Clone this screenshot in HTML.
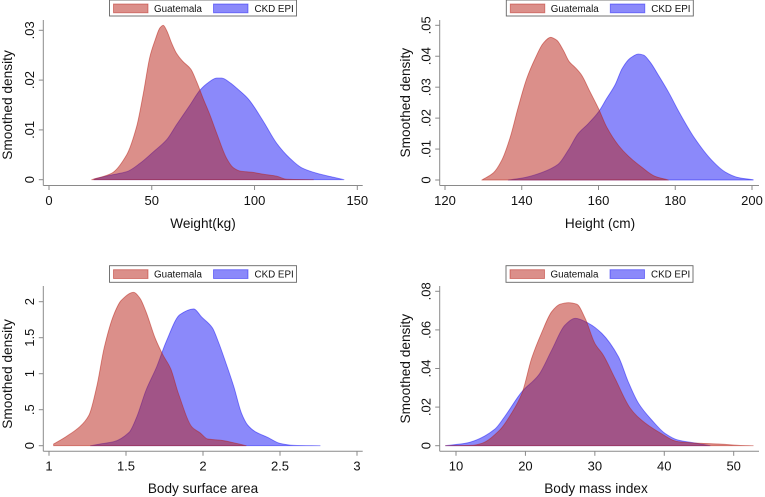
<!DOCTYPE html>
<html lang="en">
<head>
<meta charset="utf-8">
<title>Density comparison: Guatemala vs CKD EPI</title>
<style>
html,body{margin:0;padding:0;background:#fff;}
svg{display:block;font-family:"Liberation Sans",sans-serif;filter:blur(0.3px);}
text{fill:#111;}
</style>
</head>
<body>
<svg id="chart" width="765" height="497" viewBox="0 0 765 497" xmlns="http://www.w3.org/2000/svg"></svg>
<script>
// Panel 1: Weight
const weightGuatX = [20.8,30.5,37.8,42.6,45.9,49.1,51.6,54,55.6,57.2,59.7,62,65,69,71.8,75,78.3,81.6,86.4,89.7,93.2,98.6,104.3,110.8,115.6,128.6];
const weightGuatY = [0,.0013,.005,.0106,.0173,.0247,.028,.0305,.031,.030,.0274,.0254,.0238,.0222,.0197,.0163,.013,.0093,.0043,.0024,.0017,.0015,.0011,.0007,.0001,0];
const weightCkdX = [21.9,29.7,37.8,44.3,50.8,57.2,62,68.6,73.5,77.5,81.6,84,88,92.1,97,104.3,110.8,117.2,122.9,130.2,138.3,143.5];
const weightCkdY = [.0001,.0009,.0016,.0033,.0056,.008,.011,.015,.018,.0195,.0204,.0204,.0195,.0181,.0162,.0117,.0073,.0043,.0024,.0013,.0005,0];
const weightXTicks = [0,50,100,150];
const weightXLabels = ['0','50','100','150'];
const weightYTicks = [0,.01,.02,.03];
const weightYLabels = ['0','.01','.02','.03'];

// Panel 2: Height
const heightGuatX = [129.6,132.6,134.8,136.9,139.1,141.3,143.5,145.6,147.5,149.1,150.8,152.4,153.9,155.6,157.8,160,162.1,165.2,167.8,171.2,174.7,178.2];
const heightGuatY = [0,.0023,.0064,.0134,.0236,.0328,.0393,.0442,.0461,.0452,.042,.0382,.0364,.0339,.0285,.0231,.0172,.0112,.0077,.0042,.0012,0];
const heightCkdX = [136.5,140.8,145.2,149.5,152.1,154.7,157.4,160,162.1,164.3,166.2,168.2,170.4,171.7,173.4,175.6,178.2,181.2,185.1,189.5,193,196.4,200.3];
const heightCkdY = [0,.0008,.0024,.0051,.0096,.015,.0183,.022,.0263,.0307,.0361,.0393,.0407,.0404,.0382,.0339,.0285,.0215,.0134,.0064,.0026,.0008,.0001];
const heightXTicks = [120,140,160,180,200];
const heightXLabels = ['120','140','160','180','200'];
const heightYTicks = [0,.01,.02,.03,.04,.05];
const heightYLabels = ['0','.01','.02','.03','.04','.05'];

// Panel 3: Body surface area
const bsaGuatX = [1.03,1.11,1.2,1.26,1.31,1.36,1.42,1.47,1.55,1.59,1.63,1.69,1.74,1.79,1.84,1.93,1.98,2.03,2.12,2.2,2.28];
const bsaGuatY = [.023,.125,.264,.426,.82,1.375,1.815,2.02,2.13,2.05,1.86,1.49,1.26,1.07,.727,.255,.18,.093,.074,.04,0];
const bsaCkdX = [1.27,1.33,1.42,1.52,1.57,1.63,1.7,1.76,1.85,1.94,1.99,2.06,2.1,2.15,2.2,2.25,2.29,2.34,2.42,2.5,2.59,2.76];
const bsaCkdY = [0,.023,.055,.185,.4,.77,1.1,1.44,1.82,1.9,1.79,1.64,1.44,1.14,.82,.45,.287,.194,.116,.032,.005,0];
const bsaXTicks = [1,1.5,2,2.5,3];
const bsaXLabels = ['1','1.5','2','2.5','3'];
const bsaYTicks = [0,.5,1,1.5,2];
const bsaYLabels = ['0','.5','1','1.5','2'];

// Panel 4: Body mass index
const bmiGuatX = [8.5,12.3,13.7,16.3,18,19.5,20.9,22.3,23.8,25,26.2,27.4,28.6,30,31.2,32.9,35.1,36.7,39.1,42,45.4,47.8,50.7,52.8];
const bmiGuatY = [0,.0002,.0012,.0081,.0168,.0271,.0453,.0582,.0695,.0733,.0741,.0733,.066,.053,.047,.0349,.0194,.0133,.0073,.0021,.0012,.0009,.0002,0];
const bmiCkdX = [8.5,11.3,12.7,15.6,17,19.5,21.9,23.8,25.7,27.2,29.1,31,33.4,34.8,36.3,38.2,40.1,42,44.4,46.6];
const bmiCkdY = [0,.0012,.0026,.0086,.015,.028,.0366,.0496,.0625,.066,.0634,.0582,.0461,.0332,.0219,.0133,.0064,.0029,.0014,0];
const bmiXTicks = [10,20,30,40,50];
const bmiXLabels = ['10','20','30','40','50'];
const bmiYTicks = [0,.02,.04,.06,.08];
const bmiYLabels = ['0','.02','.04','.06','.08'];

const NS = 'http://www.w3.org/2000/svg';
const svg = document.getElementById('chart');
const RED = 'rgb(183,31,21)';
const BLUE = 'rgb(23,19,245)';
const AXIS = '#8a8a8a';

function make(parent, tag, attrs, text) {
  const el = document.createElementNS(NS, tag);
  for (const k in attrs) el.setAttribute(k, attrs[k]);
  if (text !== undefined) el.textContent = text;
  parent.appendChild(el);
  return el;
}

function linear(d0, d1, p0, p1) {
  return v => p0 + (v - d0) / (d1 - d0) * (p1 - p0);
}

// Smooth monotone cubic through the screen points of a series.
function smoothPath(px, py) {
  const n = px.length;
  const sl = [];
  for (let i = 0; i < n - 1; i++) sl.push((py[i + 1] - py[i]) / (px[i + 1] - px[i]));
  const m = [sl[0]];
  for (let i = 1; i < n - 1; i++) {
    m.push(sl[i - 1] * sl[i] <= 0 ? 0 : 2 * sl[i - 1] * sl[i] / (sl[i - 1] + sl[i]));
  }
  m.push(sl[n - 2]);
  let d = 'M' + px[0].toFixed(2) + ' ' + py[0].toFixed(2);
  for (let i = 0; i < n - 1; i++) {
    const h = (px[i + 1] - px[i]) / 3;
    d += 'C' + (px[i] + h).toFixed(2) + ' ' + (py[i] + m[i] * h).toFixed(2) + ' ' +
      (px[i + 1] - h).toFixed(2) + ' ' + (py[i + 1] - m[i + 1] * h).toFixed(2) + ' ' +
      px[i + 1].toFixed(2) + ' ' + py[i + 1].toFixed(2);
  }
  return d;
}

function drawArea(g, xs, ys, sx, sy, color, name) {
  let d = smoothPath(xs.map(sx), ys.map(sy));
  d += 'L' + sx(xs[xs.length - 1]).toFixed(2) + ' ' + sy(0).toFixed(2);
  d += 'L' + sx(xs[0]).toFixed(2) + ' ' + sy(0).toFixed(2) + 'Z';
  const el = make(g, 'path', {d: d, fill: color, 'fill-opacity': .5, stroke: color, 'stroke-opacity': .5, 'stroke-width': .9, 'stroke-linejoin': 'round'});
  
  
}

function drawLegend(g, p) {
  const lg = make(g, 'g', {});
  
  
  make(lg, 'rect', {x: p.legX, y: p.legY, width: p.legW, height: p.legH, fill: '#fff', stroke: '#666', 'stroke-width': .9});
  const entries = [['Guatemala', RED, p.legX + 4, p.legX + 44.5], ['CKD EPI', BLUE, p.legX + 104, p.legX + 145]];
  entries.forEach(e => {
    const entry = make(lg, 'g', {});
    
    
    make(entry, 'rect', {x: e[2], y: p.legY + 4, width: 34.5, height: 8.8, fill: e[1], 'fill-opacity': .5, stroke: e[1], 'stroke-opacity': .5, 'stroke-width': .9});
    make(entry, 'text', {x: e[3], y: p.legY + 11.8, 'font-size': 9.8}, e[0]);
  });
}

function drawPanel(p) {
  const g = make(svg, 'g', {});
  
  
  const sx = linear(p.xd[0], p.xd[1], p.xp[0], p.xp[1]);
  const sy = linear(p.yd[0], p.yd[1], p.yp[0], p.yp[1]);

  drawArea(g, p.ckdX, p.ckdY, sx, sy, BLUE, p.id + '-ckd-epi-density');
  drawArea(g, p.guatX, p.guatY, sx, sy, RED, p.id + '-guatemala-density');

  const xAxis = make(g, 'g', {});
  
  
  make(xAxis, 'line', {x1: p.left, x2: p.right, y1: p.base, y2: p.base, stroke: AXIS, 'stroke-width': 1});
  p.xTicks.forEach((t, i) => {
    make(xAxis, 'line', {x1: sx(t), x2: sx(t), y1: p.base, y2: p.base + 4.5, stroke: AXIS, 'stroke-width': 1});
    make(xAxis, 'text', {x: sx(t), y: p.base + 19.3, 'font-size': 13, 'text-anchor': 'middle'}, p.xLabels[i]);
  });

  const yAxis = make(g, 'g', {});
  
  
  make(yAxis, 'line', {x1: p.left, x2: p.left, y1: p.top, y2: p.base, stroke: AXIS, 'stroke-width': 1});
  p.yTicks.forEach((t, i) => {
    make(yAxis, 'line', {x1: p.left - 4.5, x2: p.left, y1: sy(t), y2: sy(t), stroke: AXIS, 'stroke-width': 1});
    make(yAxis, 'text', {transform: 'translate(' + (p.left - 9.3) + ' ' + sy(t) + ') rotate(-90)', 'font-size': 13, 'text-anchor': 'middle'}, p.yLabels[i]);
  });

  const xt = make(g, 'text', {x: p.xTitleX, y: p.xTitleY, 'font-size': 13.6, 'text-anchor': 'middle'}, p.xTitle);
  
  
  const yt = make(g, 'text', {transform: 'translate(' + p.yTitleX + ' ' + p.yTitleY + ') rotate(-90)', 'font-size': 13.7, 'text-anchor': 'middle'}, 'Smoothed density');
  
  

  drawLegend(g, p);
}

drawPanel({id: 'weight', xd: [0,150], xp: [49,357.3], yd: [0,.03], yp: [179.7,30.3],
  left: 43.3, right: 362.7, top: 20, base: 185.5,
  guatX: weightGuatX, guatY: weightGuatY, ckdX: weightCkdX, ckdY: weightCkdY,
  xTicks: weightXTicks, xLabels: weightXLabels, yTicks: weightYTicks, yLabels: weightYLabels,
  xTitle: 'Weight(kg)', xTitleX: 203, xTitleY: 228, yTitleX: 12, yTitleY: 105,
  legX: 109.5, legY: 0, legW: 187, legH: 16});

drawPanel({id: 'height', xd: [120,200], xp: [445,752], yd: [0,.05], yp: [180,25.3],
  left: 439.7, right: 759, top: 20, base: 185.5,
  guatX: heightGuatX, guatY: heightGuatY, ckdX: heightCkdX, ckdY: heightCkdY,
  xTicks: heightXTicks, xLabels: heightXLabels, yTicks: heightYTicks, yLabels: heightYLabels,
  xTitle: 'Height (cm)', xTitleX: 600, xTitleY: 228, yTitleX: 410, yTitleY: 102.7,
  legX: 506.3, legY: 0, legW: 187, legH: 16});

drawPanel({id: 'body-surface-area', xd: [1,3], xp: [49,357], yd: [0,2], yp: [445.7,301.7],
  left: 43.3, right: 362.7, top: 286, base: 451.3,
  guatX: bsaGuatX, guatY: bsaGuatY, ckdX: bsaCkdX, ckdY: bsaCkdY,
  xTicks: bsaXTicks, xLabels: bsaXLabels, yTicks: bsaYTicks, yLabels: bsaYLabels,
  xTitle: 'Body surface area', xTitleX: 203, xTitleY: 493, yTitleX: 12, yTitleY: 374,
  legX: 109.5, legY: 265.7, legW: 187, legH: 16.6});

drawPanel({id: 'body-mass-index', xd: [10,50], xp: [456,733.7], yd: [0,.08], yp: [445.7,291.3],
  left: 439.7, right: 759, top: 286, base: 451.3,
  guatX: bmiGuatX, guatY: bmiGuatY, ckdX: bmiCkdX, ckdY: bmiCkdY,
  xTicks: bmiXTicks, xLabels: bmiXLabels, yTicks: bmiYTicks, yLabels: bmiYLabels,
  xTitle: 'Body mass index', xTitleX: 596, xTitleY: 493, yTitleX: 410, yTitleY: 368.7,
  legX: 506, legY: 265.7, legW: 187, legH: 16.6});
</script>
</body>
</html>
